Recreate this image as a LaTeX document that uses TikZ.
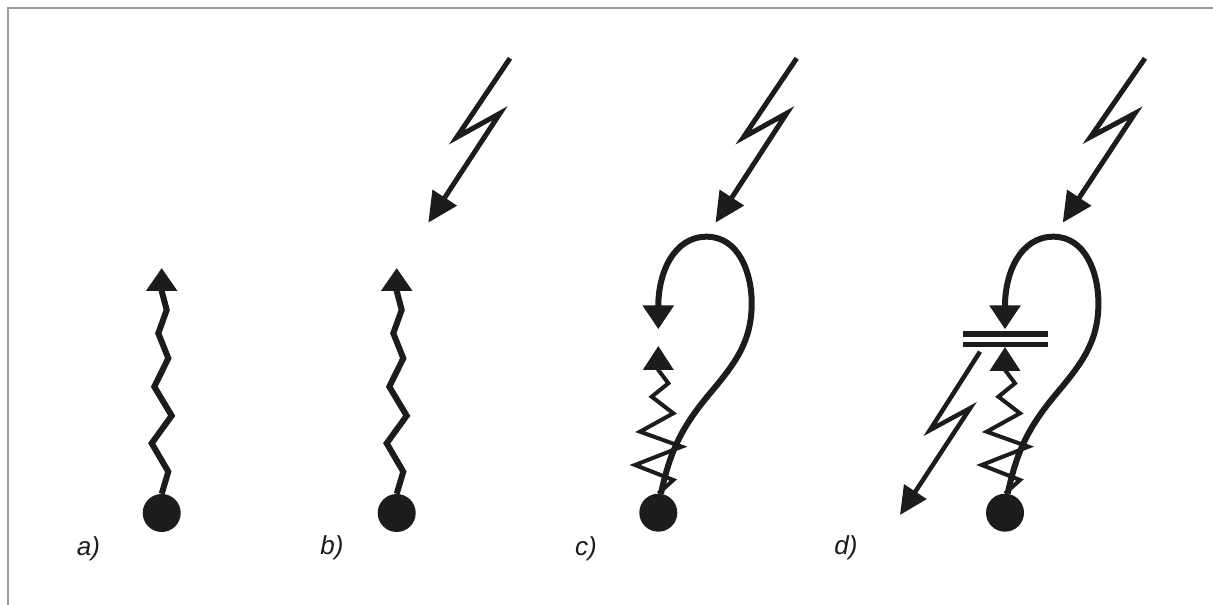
\documentclass[tikz,border=0pt]{standalone}
\usepackage{fontspec}
\setmainfont{Liberation Sans}
\usetikzlibrary{arrows.meta}
\definecolor{ink}{HTML}{1C1C1C}
\definecolor{framec}{HTML}{9C9C9C}
\begin{document}
\begin{tikzpicture}[x=1pt,y=1pt,
  dot/.style={circle,fill=ink,minimum size=38pt,inner sep=0pt},
  wave/.style={draw=ink,line width=6pt,line join=miter,-{Triangle[length=23pt,width=30pt]}},
  bolt/.style={draw=ink,line width=5pt,line join=miter,miter limit=12,-{Triangle[length=30pt,width=28pt]}},
  boltsmall/.style={draw=ink,line width=4.5pt,line join=miter,miter limit=12,-{Triangle[length=28pt,width=26pt]}},
  loopline/.style={draw=ink,line width=6pt,-{Triangle[length=24pt,width=30pt]}},
  spring/.style={draw=ink,line width=4pt,line join=miter,miter limit=12,-{Triangle[length=24pt,width=30pt]}},
  lab/.style={font=\fontsize{26}{31}\selectfont\itshape,text=ink,inner sep=0pt},
  bar/.style={draw=ink,line width=5.5pt}]
\useasboundingbox (0,0) rectangle (1213,605);
% frame (top and left edges only)
\draw[framec,line width=2pt] (8,0) -- (8,596.5) -- (1213,596.5);

% ---------- a) ----------
\node[dot] (ca) at (161.7,92) {};
\draw[wave] (ca.north) -- (168.3,133.3) -- (151.7,161.7) -- (171.7,189.3) -- (154.3,218.3)
  -- (168.3,246.7) -- (158.3,271.7) -- (166.7,295) -- (161.7,314) -- (161.7,337);
\node[lab] (la) at (88.5,56) {a)};

% ---------- b) ----------
\begin{scope}[xshift=235pt]
\node[dot] (cb) at (161.7,92) {};
\draw[wave] (cb.north) -- (168.3,133.3) -- (151.7,161.7) -- (171.7,189.3) -- (154.3,218.3)
  -- (168.3,246.7) -- (158.3,271.7) -- (166.7,295) -- (161.7,314) -- (161.7,337);
\end{scope}
\node[lab] (lb) at (332,57) {b)};
\coordinate (tb) at (510,546.7);
\coordinate (hb) at (428.3,382.3);
\draw[bolt] (tb) -- (456.7,467.7) -- (500,491.7) -- (hb);

% ---------- c) ----------
\node[dot] (cc) at (658.3,92.3) {};
\draw[spring] (cc.north) -- (673.3,125) -- (635,140) -- (681.7,158.3) -- (640,173.3)
  -- (673.3,191.7) -- (651.7,208.3) -- (668.3,221.7) -- (658.3,235) -- (658.3,259);
\draw[loopline] (661,111.5) to[out=78,in=-130] (710,211.7) to[out=50,in=-90] (751.7,301.7)
  to[out=90,in=0] (706.7,368.3) to[out=180,in=90] (658.3,299) -- (658.3,275.7);
\coordinate (tc) at (796.7,546.7);
\coordinate (hc) at (715.5,382.3);
\draw[bolt] (tc) -- (743.4,467.7) -- (786.7,491.7) -- (hc);
\node[lab] (lc) at (586,56) {c)};

% ---------- d) ----------
\begin{scope}[xshift=346.7pt]
\node[dot] (cd) at (658.3,92.3) {};
\draw[spring] (cd.north) -- (673.3,125) -- (635,140) -- (681.7,158.3) -- (640,173.3)
  -- (673.3,191.7) -- (651.7,208.3) -- (668.3,221.7) -- (658.3,235) -- (658.3,258);
\draw[loopline] (661,111.5) to[out=78,in=-130] (710,211.7) to[out=50,in=-90] (751.7,301.7)
  to[out=90,in=0] (706.7,368.3) to[out=180,in=90] (658.3,299) -- (658.3,275.7);
\end{scope}
\coordinate (b1l) at (962.7,271);
\coordinate (b1r) at (1048.3,271);
\coordinate (b2l) at (962.7,260.5);
\coordinate (b2r) at (1048.3,260.5);
\draw[bar] (b1l) -- (b1r);
\draw[bar] (b2l) -- (b2r);
\coordinate (td) at (1145,546.7);
\coordinate (hd) at (1062.7,382.3);
\draw[bolt] (td) -- (1090.5,468) -- (1135,491.7) -- (hd);
\coordinate (sd) at (980,253.3);
\coordinate (ed) at (900,90);
\draw[boltsmall] (sd) -- (930,175) -- (970,196.7) -- (ed);
\node[lab] (ld) at (846,57) {d)};
\end{tikzpicture}
\end{document}
